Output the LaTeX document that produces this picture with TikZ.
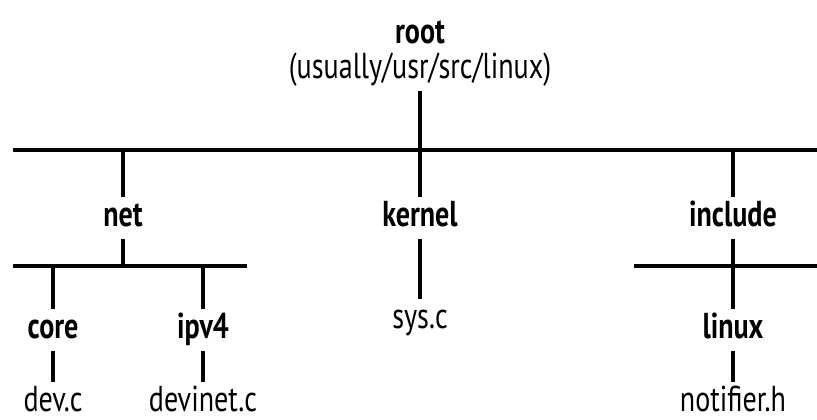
\documentclass[tikz,border=0pt]{standalone}
\usepackage{fontspec}
\setmainfont{PT Sans}[FakeStretch=0.78]
\begin{document}
\begin{tikzpicture}[x=1pt,y=-1pt,
           dir_style/.style={font=\fontsize{36}{40}\selectfont\bfseries,anchor=base,inner sep=0pt,outer sep=5pt,text height=24pt,text depth=8pt},
           file_style/.style={font=\fontsize{36}{40}\selectfont,anchor=base,inner sep=0pt,outer sep=5pt,text height=24pt,text depth=8pt},
           edge_style/.style={draw=black,line width=4pt},
           bar_style/.style={draw=black,line width=4.5pt}]
            \useasboundingbox (0, 0) rectangle (817, 420);
            \node[dir_style] (root) at (420, 44)  {root};
            \node[file_style] (rootpath) at (420, 78)  {(usually/usr/src/linux)};
            \node[dir_style] (net) at (123, 226)  {net};
            \node[dir_style] (kernel) at (420, 226)  {kernel};
            \node[dir_style] (include) at (733, 226)  {include};
            \node[dir_style] (core) at (53, 338)  {core};
            \node[dir_style] (ipv4) at (203, 338)  {ipv4};
            \node[file_style] (sysc) at (420, 328)  {sys.c};
            \node[dir_style] (linux) at (733, 338)  {linux};
            \node[file_style] (devc) at (53, 411)  {dev.c};
            \node[file_style] (devinetc) at (203, 411)  {devinet.c};
            \node[file_style] (notifierh) at (733, 411)  {notifier.h};
            % bars
            \coordinate (top_l) at (13, 150);
            \coordinate (top_r) at (817, 150);
            \coordinate (top_net) at (123, 150);
            \coordinate (top_kernel) at (420, 150);
            \coordinate (top_include) at (733, 150);
            \coordinate (net_l) at (13, 266);
            \coordinate (net_r) at (247, 266);
            \coordinate (net_mid) at (123, 266);
            \coordinate (net_core) at (53, 266);
            \coordinate (net_ipv4) at (203, 266);
            \coordinate (inc_l) at (634, 266);
            \coordinate (inc_r) at (817, 266);
            \draw[bar_style]  (top_l) -- (top_r);
            \draw[bar_style]  (net_l) -- (net_r);
            \draw[bar_style]  (inc_l) -- (inc_r);
            \draw[edge_style]  (rootpath) edge (top_kernel);
            \draw[edge_style]  (top_net) edge (net);
            \draw[edge_style]  (top_kernel) edge (kernel);
            \draw[edge_style]  (top_include) edge (include);
            \draw[edge_style]  (net) edge (net_mid);
            \draw[edge_style]  (net_core) edge (core);
            \draw[edge_style]  (net_ipv4) edge (ipv4);
            \draw[edge_style]  (kernel) edge (sysc);
            \draw[edge_style]  (include) edge (linux);
            \draw[edge_style]  (core) edge (devc);
            \draw[edge_style]  (ipv4) edge (devinetc);
            \draw[edge_style]  (linux) edge (notifierh);
        \end{tikzpicture}
\end{document}
